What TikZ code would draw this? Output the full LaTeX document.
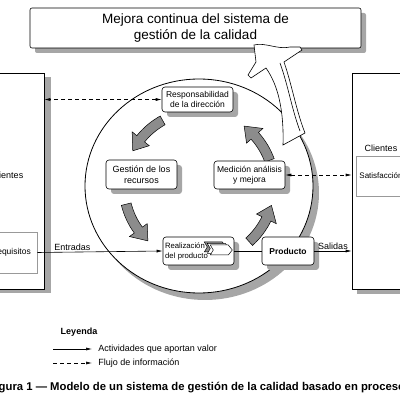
\documentclass[tikz,border=0pt]{standalone}
\usepackage{fontspec}
\setmainfont{Liberation Sans}
\usetikzlibrary{positioning,arrows.meta,shadows,calc}
\tikzset{
  sombra/.style = {drop shadow={shadow xshift=5pt, shadow yshift=-5pt, fill=black!35, opacity=1}},
  caja/.style = {draw=black, rounded corners=3pt, fill=white, align=center, inner sep=1pt,
                 font=\fontsize{8.5}{10}\selectfont, sombra},
  cliente/.style = {draw=black, fill=white, minimum height=216},
  subcaja/.style = {draw=black!40, fill=white, font=\fontsize{8.5}{10}\selectfont},
  texto/.style = {inner sep=1pt, font=\fontsize{9}{11}\selectfont},
  ciclo/.style = {fill=black!45, draw=black, line width=0.5pt},
  info/.style = {dashed, dash pattern=on 4pt off 3pt, <->},
}

\begin{document}
\begin{tikzpicture}[x=1pt, y=1pt, >={Latex[length=6pt,width=3pt]}, line width=0.6pt]
  \useasboundingbox (0,0) rectangle (400,400);
  \clip (0,0) rectangle (400,400);

  % clientes
  \node [cliente, minimum width=74, drop shadow={shadow xshift=7pt, shadow yshift=-4pt, fill=black!35, opacity=1}] (izq) at (7,219) {};
  \node [cliente, minimum width=58, drop shadow={shadow xshift=5pt, shadow yshift=-5pt, fill=black!35, opacity=1}] (der) at (381,219) {};
  \node [texto] (cliizq) at (7,225) {Clientes};
  \node [subcaja, minimum width=52, minimum height=41] (req) at (11,147.5) {Requisitos};
  \node [texto] (clider) at (381,252) {Clientes};
  \node [subcaja, minimum width=44, minimum height=40, font=\fontsize{8}{10}\selectfont] (sat) at (381,224) {Satisfacción};

  % circulo
  \fill [black!35] (205,207) ellipse [x radius=114pt, y radius=107pt];
  \filldraw [fill=white, draw=black, line width=0.8pt] (199,214) ellipse [x radius=114pt, y radius=107pt];

  \foreach \a in {119,194,312,20} {
    \filldraw [ciclo, shift={(199,214)}]
      (\a:70pt) arc [start angle=\a, end angle=\a+22, radius=70pt]
      -- (\a+22:64pt) -- (\a+33:75pt) -- (\a+22:86pt) -- (\a+22:80pt)
      arc [start angle=\a+22, end angle=\a, radius=80pt] -- cycle;
  }

  % mejora continua
  \node [caja, rounded corners=2pt, minimum width=331, minimum height=40,
         font=\fontsize{13.5}{16.5}\selectfont] (mejora) at (195.5,372)
        {Mejora continua del sistema de\\gestión de la calidad};

  \filldraw [fill=white, draw=black]
    (283,255) .. controls (284,290) and (278,315) .. (266,332)
    -- (251,322) -- (248,325) -- (256,338) -- (254,355)
    .. controls (265,358) and (278,350) .. (290,353)
    -- (300,353) -- (302,350) -- (284,338)
    .. controls (292,315) and (296,290) .. (305,267) -- cycle;
  \draw (280,337) .. controls (288,315) and (292,290) .. (300,269);

  % procesos
  \node [caja, minimum width=71, minimum height=25] (resp) at (197.5,300.5) {Responsabilidad\\de la dirección};
  \node [caja, minimum width=71, minimum height=29, font=\fontsize{9}{11}\selectfont] (gest) at (141.5,225.5) {Gestión de los\\recursos};
  \node [caja, minimum width=71, minimum height=28] (med) at (249.5,225) {Medición análisis\\y mejora};
  \node [caja, minimum width=71, minimum height=28, align=left, text width=67pt,
         font=\fontsize{7.7}{10}\selectfont] (real) at (198.5,149) {Realización\\del producto};
  \node [caja, minimum width=52, minimum height=28, font=\bfseries\fontsize{8.5}{10}\selectfont] (prod) at (288,149) {Producto};

  \foreach \d/\c in {6/black!45, 3/white, 0/white} {
    \filldraw [fill=\c, draw=black, line width=0.5pt, shift={($(real.east)+(-\d,\d/2)$)}]
      (-24,6) -- (-6,6) -- (-2,1) -- (-6,-4) -- (-24,-4) -- (-21,1) -- cycle;
  }

  % flujos
  \draw [info] (resp.west) -- (resp.west -| izq.east);
  \draw [info] (med.east) -- (med.east -| der.west);
  \draw [->] (req.east) -- node [texto, above, pos=0.28] {Entradas} (real.west);
  \draw (real.east) -- (prod.west);
  \draw [->] (prod.east) -- node [texto, above] {Salidas} (prod.east -| der.west);

  % leyenda
  \node [texto, font=\bfseries\fontsize{9}{11}\selectfont] (leyenda) at (79,68) {Leyenda};
  \node [texto, anchor=west] (valor) at (97,51) {Actividades que aportan valor};
  \node [texto, anchor=west] (flujo) at (97,37) {Flujo de información};
  \coordinate (v0) at (53,51);
  \coordinate (f0) at (53,37);
  \draw [->] (v0) -- ([xshift=-5pt]valor.west);
  \draw [dashed, dash pattern=on 4pt off 3pt, ->] (f0) -- ([xshift=-5pt]flujo.west);

  \node [font=\bfseries\fontsize{11.3}{13}\selectfont] (figura) at (200,12)
        {Figura 1 — Modelo de un sistema de gestión de la calidad basado en procesos};
\end{tikzpicture}
\end{document}
